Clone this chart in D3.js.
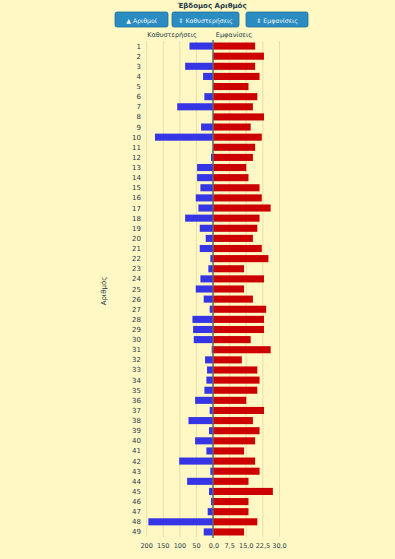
<!DOCTYPE html>
<html>
<head>
<meta charset="utf-8">
<script src="https://cdn.jsdelivr.net/npm/d3@7"></script>
<style>
    body { margin: 0; background: #fff8c4; }
    svg { display: block; font-family: "DejaVu Sans", Verdana, sans-serif; }
</style>
</head>
<body>
<div id="chart"></div>
<script>
// data
const numbers = d3.range(1, 50);
const delays = [71, 0, 84, 30, 0, 26, 108, 0, 36, 175, 0, 6,
    48, 48, 38, 52, 44, 84, 40, 22, 40, 8, 14, 38,
    52, 28, 10, 62, 60, 58, 4, 24, 18, 20, 26, 54, 10,
    74, 12, 54, 20, 102, 8, 78, 12, 6, 16, 195, 28];
const appearances = [19, 23, 19, 21, 16, 20, 18, 23, 17, 22, 19, 18,
    15, 16, 21, 22, 26, 21, 20, 18, 22, 25, 14, 23,
    14, 18, 24, 23, 23, 17, 26, 13, 20, 21, 20, 15, 23,
    18, 21, 19, 14, 19, 21, 16, 27, 16, 16, 20, 14];
const leftTicks = [200, 150, 100, 50];
const rightTicks = [0, 7.5, 15, 22.5, 30];
const buttons = ['\u25B2 Αριθμοί', '\u21D5 Καθυστερήσεις', '\u21D5 Εμφανίσεις'];

const W = 395, H = 559;
const svg = d3.select('#chart').append('svg')
    .attr('width', W)
    .attr('height', H);

const plotTop = 41, plotBottom = 537, mid = 213;

let y = d3.scaleBand().domain(numbers).range([plotTop, plotBottom]).paddingInner(0.3).paddingOuter(0.15);
let xL = d3.scaleLinear().domain([0, 200]).range([mid, 146.7]);
let xR = d3.scaleLinear().domain([0, 30]).range([mid, 279.5]);

// title + buttons
svg.append('text')
    .attr('x', 212).attr('y', 8)
    .attr('text-anchor', 'middle')
    .style('font-size', '7px').style('font-weight', 'bold').style('fill', '#1c3a4a')
    .text('Έβδομος Αριθμός');

const btnX = [115, 172, 246], btnW = [53, 67, 62];
let b = svg.selectAll('.btn').data(buttons).enter().append('g').attr('class', 'btn');
b.append('rect')
    .attr('x', (d, i) => btnX[i]).attr('y', 12)
    .attr('width', (d, i) => btnW[i]).attr('height', 15)
    .attr('rx', 2)
    .style('fill', '#2a8cc0').style('stroke', '#1d6e99').style('stroke-width', 0.8);
b.append('text')
    .attr('x', (d, i) => btnX[i] + btnW[i] / 2).attr('y', 22.5)
    .attr('text-anchor', 'middle')
    .style('font-size', '6.2px').style('fill', '#eef6fb')
    .text(d => d);

// series labels
svg.append('text').attr('x', 172).attr('y', 37).attr('text-anchor', 'middle')
    .style('font-size', '6.5px').style('fill', '#1c3a4a').text('Καθυστερήσεις');
svg.append('text').attr('x', 234).attr('y', 37).attr('text-anchor', 'middle')
    .style('font-size', '6.5px').style('fill', '#1c3a4a').text('Εμφανίσεις');

// grid
svg.selectAll('.gl').data(leftTicks).enter().append('line')
    .attr('x1', d => xL(d)).attr('x2', d => xL(d))
    .attr('y1', plotTop).attr('y2', plotBottom)
    .style('stroke', '#e6dfae').style('stroke-width', 1);
svg.selectAll('.gr').data(rightTicks.filter(d => d > 0)).enter().append('line')
    .attr('x1', d => xR(d)).attr('x2', d => xR(d))
    .attr('y1', plotTop).attr('y2', plotBottom)
    .style('stroke', '#e6dfae').style('stroke-width', 1);

// bars
svg.selectAll('.bl').data(numbers).enter().append('rect')
    .attr('x', (d, i) => xL(delays[i]))
    .attr('y', d => y(d))
    .attr('width', (d, i) => mid - xL(delays[i]))
    .attr('height', y.bandwidth())
    .style('fill', '#3535e6');
svg.selectAll('.br').data(numbers).enter().append('rect')
    .attr('x', mid)
    .attr('y', d => y(d))
    .attr('width', (d, i) => xR(appearances[i]) - mid)
    .attr('height', y.bandwidth())
    .style('fill', '#cc0000');

// center line
svg.append('line')
    .attr('x1', mid).attr('x2', mid).attr('y1', plotTop - 1).attr('y2', plotBottom + 1)
    .style('stroke', '#666').style('stroke-width', 1.5);

// row labels
svg.selectAll('.rl').data(numbers).enter().append('text')
    .attr('x', 141).attr('y', d => y(d) + y.bandwidth() / 2 + 2.5)
    .attr('text-anchor', 'end')
    .style('font-size', '7px').style('fill', '#1c3a4a')
    .text(d => d);

// bottom ticks
svg.selectAll('.tl').data(leftTicks).enter().append('text')
    .attr('x', d => xL(d)).attr('y', 548)
    .attr('text-anchor', 'middle')
    .style('font-size', '6.5px').style('fill', '#1c3a4a')
    .text(d => d);
svg.selectAll('.tr').data(rightTicks).enter().append('text')
    .attr('x', d => xR(d) + (d === 0 ? 1 : 0)).attr('y', 548)
    .attr('text-anchor', 'middle')
    .style('font-size', '6.5px').style('fill', '#1c3a4a')
    .text(d => d.toFixed(1).replace('.', ','));

// y title
svg.append('text')
    .attr('transform', 'translate(106,' + 291 + ') rotate(-90)')
    .attr('text-anchor', 'middle')
    .style('font-size', '7px').style('fill', '#1c3a4a')
    .text('Αριθμός');
</script>
</body>
</html>
